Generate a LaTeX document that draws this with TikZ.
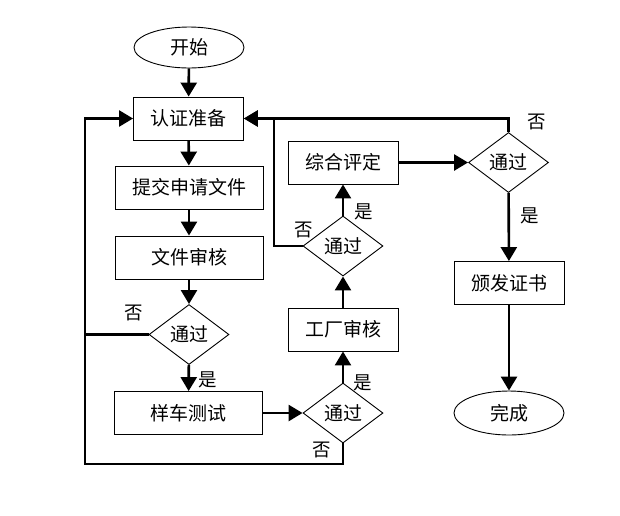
\documentclass[tikz,border=0pt]{standalone}
\usepackage{fontspec}
\setmainfont{Noto Sans CJK SC}
\usetikzlibrary{shapes.geometric,arrows.meta}
\tikzset{
  box/.style={draw, line width=0.9pt, fill=white, minimum width=110pt, minimum height=43pt, inner sep=0pt, font=\fontsize{19pt}{21pt}\selectfont},
  widebox/.style={box, minimum width=148pt},
  term/.style={draw, ellipse, line width=0.9pt, fill=white, minimum width=110pt, minimum height=41pt, inner sep=0pt, font=\fontsize{19pt}{21pt}\selectfont},
  dec/.style={draw, diamond, line width=0.9pt, fill=white, minimum width=80pt, minimum height=60pt, inner sep=0pt, font=\fontsize{19pt}{21pt}\selectfont},
  conn/.style={line width=2.6pt, -{Triangle[width=16pt,length=14pt]}},
  plain/.style={line width=2.6pt},
  lab/.style={inner sep=0pt, font=\fontsize{18.5pt}{20pt}\selectfont}
}
\begin{document}
\begin{tikzpicture}[x=1pt,y=-1pt]
\useasboundingbox (0,0) rectangle (620,515);
% nodes
\node[term] (start) at (189,47.5) {开始};
\node[box] (rz) at (188.5,118.5) {认证准备};
\node[widebox] (tj) at (189,187.5) {提交申请文件};
\node[widebox] (wj) at (189,257.5) {文件审核};
\node[dec] (d1) at (189,334.5) {通过};
\node[widebox] (yc) at (188.5,413) {样车测试};
\node[dec] (d3) at (343,413) {通过};
\node[box] (gc) at (343,329.5) {工厂审核};
\node[dec] (d2) at (343,246) {通过};
\node[box] (zh) at (343,162.5) {综合评定};
\node[dec] (d4) at (508.5,162.5) {通过};
\node[box] (bf) at (509,283) {颁发证书};
\node[term, minimum height=44pt] (end) at (509,413) {完成};
\coordinate (L1) at (85,464);
\coordinate (R1) at (274,118.5);
% labels
\node[lab] (l1) at (134,313) {否};
\node[lab] (l2) at (208,380) {是};
\node[lab] (l3) at (363,383) {是};
\node[lab] (l4) at (322,450) {否};
\node[lab] (l5) at (364,212) {是};
\node[lab] (l6) at (304,230) {否};
\node[lab] (l7) at (530,216) {是};
\node[lab] (l8) at (537,122) {否};
% connectors
\draw[conn] (start) -- (rz);
\draw[conn] (rz) -- (tj);
\draw[conn] (tj) -- (wj);
\draw[conn] (wj) -- (d1);
\draw[conn] (d1) -- (yc);
\draw[conn] (yc) -- (d3);
\draw[conn] (d3) -- (gc);
\draw[conn] (gc) -- (d2);
\draw[conn] (d2) -- (zh);
\draw[conn] (zh) -- (d4);
\draw[conn] (d4) -- (bf);
\draw[conn] (bf) -- (end);
\draw[conn] (d3.south) |- (L1) |- (rz.west);
\draw[plain] (d1.west) -- (d1.west -| L1);
\draw[conn] (d2.west) -| (R1) -- (rz.east);
\draw[conn] (d4.north) |- (rz.east);
\end{tikzpicture}
\end{document}
